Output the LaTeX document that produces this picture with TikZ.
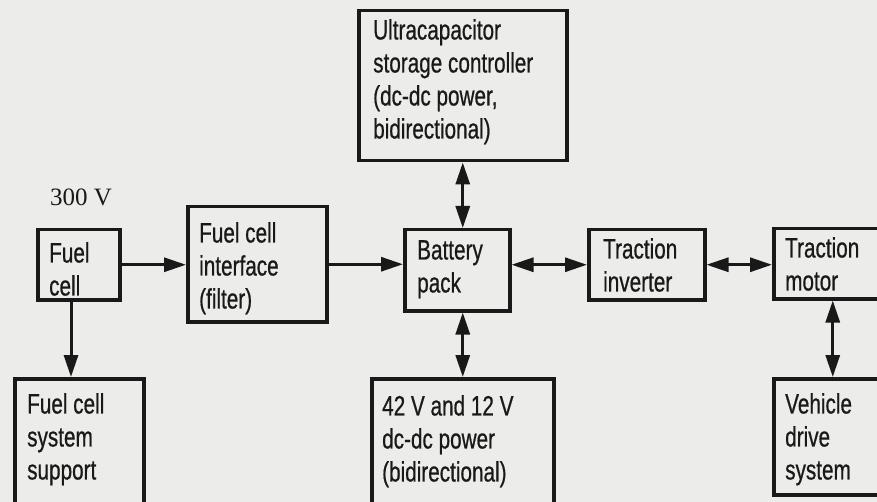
\documentclass[tikz,border=0pt]{standalone}
\usepackage{fontspec}
\setmainfont{Liberation Sans}[FakeStretch=0.74,FakeBold=0.6]
\newfontfamily\volts{Liberation Serif}
\usetikzlibrary{arrows.meta,calc}
\definecolor{bgc}{RGB}{236,236,234}
\definecolor{ink}{RGB}{25,25,25}
\begin{document}
\begin{tikzpicture}[x=1pt,y=-1pt,
  blk/.style={draw=ink,line width=3.5pt,rectangle,inner sep=0pt,anchor=north west},
  lbl/.style={anchor=north west,inner sep=0pt,align=left,text=ink,font=\fontsize{28}{33}\selectfont},
  tip/.tip={Triangle[length=22pt,width=14pt]},
  conn/.style={draw=ink,line width=3pt,-tip},
  biconn/.style={draw=ink,line width=3pt,tip-tip}]
\fill[bgc] (0,0) rectangle (877,502);
\useasboundingbox (0,0) rectangle (877,502);
% boxes
\node[blk,minimum width=82pt,minimum height=70pt]  (fc)  at (36,228) {};
\node[blk,minimum width=139pt,minimum height=115pt] (fci) at (186,205) {};
\node[blk,minimum width=208pt,minimum height=150pt] (uc)  at (357,9) {};
\node[blk,minimum width=105pt,minimum height=81pt]  (bp)  at (403,228) {};
\node[blk,minimum width=116pt,minimum height=70pt]  (ti)  at (587,228) {};
\node[blk,minimum width=118pt,minimum height=70pt]  (tm)  at (772,227) {};
\node[blk,minimum width=129pt,minimum height=145pt] (fcs) at (13,377) {};
\node[blk,minimum width=182pt,minimum height=145pt] (dc)  at (370,377) {};
\node[blk,minimum width=118pt,minimum height=116pt] (vd)  at (772,377) {};
% labels
\node[lbl] (tfc)  at (49,242)  {Fuel\\cell};
\node[lbl] (tfci) at (199,222) {Fuel cell\\interface\\(filter)};
\node[lbl] (tuc)  at (373,19)  {Ultracapacitor\\storage controller\\(dc-dc power,\\bidirectional)};
\node[lbl] (tbp)  at (417,240) {Battery\\pack};
\node[lbl] (tti)  at (603,238) {Traction\\inverter};
\node[lbl] (ttm)  at (785,237) {Traction\\motor};
\node[lbl] (tfcs) at (27,393)  {Fuel cell\\system\\support};
\node[lbl] (tdc)  at (382,395) {42 V and 12 V\\dc-dc power\\(bidirectional)};
\node[lbl] (tvd)  at (785,393) {Vehicle\\drive\\system};
\node[anchor=base,inner sep=0pt,text=ink,font=\volts\fontsize{25}{30}\selectfont] (v300) at (81,206) {300 V};
% connectors
\coordinate (fcx) at (71,0);
\draw[conn] (fc.east) -- (fci.west |- fc.east);
\draw[conn] (fc.south -| fcx) -- (fcs.north -| fcx);
\draw[conn] (fci.east) -- (fci.east -| bp.west);
\draw[biconn] (uc.south) -- (uc.south |- bp.north);
\draw[biconn] (dc.north |- bp.south) -- (dc.north);
\draw[biconn] (ti.west -| bp.east) -- (ti.west);
\draw[biconn] (ti.east) -- (ti.east -| tm.west);
\draw[biconn] (tm.south) -- (vd.north);
\end{tikzpicture}
\end{document}
